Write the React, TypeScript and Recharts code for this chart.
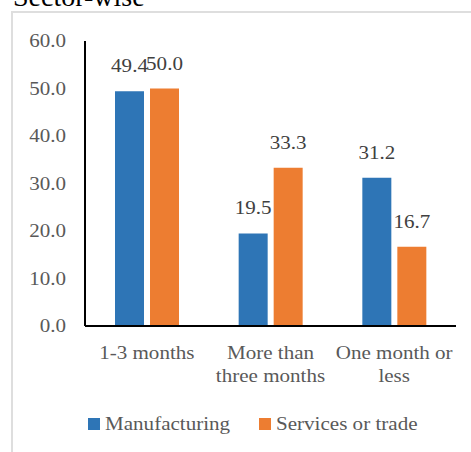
import { Bar, BarChart, LabelList, XAxis, YAxis } from "recharts";

const categories = ["1-3 months", "More than three months", "One month or less"];
const tickLines = [["1-3 months"], ["More than", "three months"], ["One month or", "less"]];
const manufacturing = [49.4, 19.5, 31.2];
const servicesOrTrade = [50.0, 33.3, 16.7];
const yTicks = [0, 10, 20, 30, 40, 50, 60];

const series = [
  { key: "manufacturing", name: "Manufacturing", color: "#2E75B6" },
  { key: "services", name: "Services or trade", color: "#ED7D31" },
];

const data = categories.map((name, i) => ({
  name,
  manufacturing: manufacturing[i],
  services: servicesOrTrade[i],
}));

const font = "'Liberation Serif', 'Times New Roman', serif";
const grey = "#595959";
// the source picture is a little wider than tall, so the text is stretched sideways
const stretch = 1.17;

const SText = ({ x, y, anchor, fill, dy, children }: any) => (
  <g transform={`translate(${x},${y}) scale(${stretch},1)`}>
    <text x={0} y={0} dy={dy} textAnchor={anchor} fill={fill} fontSize={18} fontFamily={font}>
      {children}
    </text>
  </g>
);

const YTick = (props: any) => {
  const { x, y, payload } = props;
  return (
    <SText x={x} y={y} anchor="end" fill={grey} dy="0.355em">
      {Number(payload.value).toFixed(1)}
    </SText>
  );
};

const XTick = (props: any) => {
  const { x, y, index, payload } = props;
  const lines = tickLines[index] || [payload.value];
  return (
    <g>
      {lines.map((l: string, i: number) => (
        <SText key={i} x={x} y={y + 27 + i * 23} anchor="middle" fill={grey}>
          {l}
        </SText>
      ))}
    </g>
  );
};

const BarLabel = (props: any) => {
  const { x, y, width, value } = props;
  return (
    <SText x={Number(x) + Number(width) / 2} y={Number(y) - 19} anchor="middle" fill="#404040">
      {Number(value).toFixed(1)}
    </SText>
  );
};

export default function App() {
  return (
    <div
      style={{
        position: "absolute",
        left: 0,
        top: 0,
        width: 471,
        height: 452,
        overflow: "hidden",
        background: "#fff",
        fontFamily: font,
      }}
    >
      <div
        style={{
          position: "absolute",
          left: 13,
          top: -17.5,
          fontSize: 28,
          lineHeight: "28px",
          color: "#000",
          whiteSpace: "nowrap",
        }}
      >
        Sector-wise
      </div>
      <div
        style={{
          position: "absolute",
          left: 11,
          top: 11,
          width: 500,
          height: 500,
          border: "2px solid #dedede",
        }}
      />
      <div style={{ position: "absolute", left: 0, top: 0 }}>
        <BarChart
          width={471}
          height={452}
          data={data}
          margin={{ top: 41, right: 15, left: 0, bottom: 56 }}
          barSize={29}
          barGap={6}
        >
          <YAxis
            width={85}
            domain={[0, 60]}
            ticks={yTicks}
            interval={0}
            tickLine={false}
            tickMargin={13}
            axisLine={{ stroke: "#000", strokeWidth: 2 }}
            tick={<YTick />}
          />
          <XAxis
            dataKey="name"
            height={70}
            interval={0}
            tickLine={false}
            tickMargin={0}
            axisLine={{ stroke: "#000", strokeWidth: 2 }}
            tick={<XTick />}
          />
          {series.map((s) => (
            <Bar key={s.key} dataKey={s.key} name={s.name} fill={s.color} isAnimationActive={false}>
              <LabelList dataKey={s.key} content={<BarLabel />} />
            </Bar>
          ))}
        </BarChart>
      </div>
      <div
        style={{
          position: "absolute",
          left: 88,
          top: 412,
          display: "flex",
          alignItems: "center",
          fontSize: 18,
          color: grey,
          whiteSpace: "nowrap",
        }}
      >
        {series.map((s, i) => (
          <div key={s.key} style={{ display: "flex", alignItems: "center", marginRight: i === 0 ? 47 : 0 }}>
            <span style={{ display: "inline-block", width: 12, height: 12, background: s.color, marginRight: 5 }} />
            <span
              style={{
                display: "inline-block",
                lineHeight: "24px",
                transform: `scaleX(${stretch})`,
                transformOrigin: "left center",
              }}
            >
              {s.name}
            </span>
          </div>
        ))}
      </div>
    </div>
  );
}
